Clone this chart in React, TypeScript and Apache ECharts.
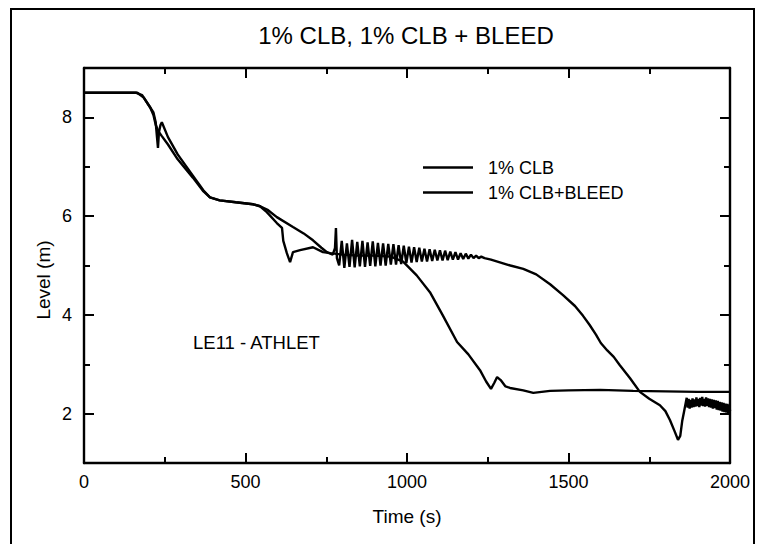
import React, { useEffect, useRef } from "react";
import * as echarts from "echarts";

const titleText = "1% CLB, 1% CLB + BLEED";
const seriesNames = ["1% CLB", "1% CLB+BLEED"];
const xAxisName = "Time (s)";
const yAxisName = "Level (m)";
const annotationText = "LE11 - ATHLET";
const xRange = [0, 2000];
const xTickStep = 500;
const yRange = [1, 9];
const yMajorTicks = [2, 4, 6, 8];
const yMinorTicks = [3, 5, 7];

// 1% CLB (slow drop, oscillations, deep dip near 1840 s)
const clbTime = [
  0, 100, 165, 185, 205, 215, 222, 230, 241, 260, 290, 337, 370, 390, 420, 470, 523, 545, 570, 597, 647, 680, 709,
  735, 752, 770, 777, 780, 783,
  790, 798, 806, 814, 822, 830, 838, 846, 854, 862, 870, 878, 886, 894, 902, 910, 918, 926, 934, 942, 950, 958, 966,
  974, 982, 990, 998, 1006, 1014, 1022, 1030, 1038, 1046, 1054, 1062, 1070, 1078, 1086, 1094, 1102, 1110, 1118,
  1126, 1134, 1142, 1150, 1158, 1166, 1174, 1182, 1190, 1198, 1206, 1214, 1222, 1230, 1240,
  1260, 1290, 1320, 1360, 1400, 1443, 1483, 1520, 1545, 1565, 1585, 1600, 1620, 1640, 1659, 1690, 1721, 1750, 1783,
  1800, 1814, 1828, 1839, 1846, 1852, 1858, 1866,
  1869, 1872, 1875, 1878, 1881, 1884, 1887, 1890, 1893, 1896, 1899, 1902, 1905, 1908, 1911, 1914, 1917, 1920, 1923,
  1926, 1929, 1932, 1935, 1938, 1941, 1944, 1947, 1950, 1953, 1956, 1959, 1962, 1965, 1968, 1971, 1974, 1977, 1980,
  1983, 1986, 1989, 1992, 1995, 1998, 2000,
];
const clbLevel = [
  8.5, 8.5, 8.5, 8.4, 8.2, 8.05, 7.85, 7.72, 7.62, 7.45, 7.15, 6.78, 6.5, 6.38, 6.32, 6.28, 6.24, 6.2, 6.12, 5.98,
  5.78, 5.65, 5.51, 5.36, 5.27, 5.22, 5.35, 5.76, 5.15,
  5.0, 5.5, 4.95, 5.45, 4.97, 5.52, 4.96, 5.48, 4.98, 5.5, 4.97, 5.47, 4.99, 5.49, 4.98, 5.46, 5.0, 5.45, 5.0, 5.44,
  5.02, 5.43, 5.02, 5.41, 5.03, 5.4, 5.05, 5.38, 5.06, 5.37, 5.07, 5.36, 5.08, 5.34, 5.08, 5.33, 5.09, 5.32, 5.1,
  5.31, 5.1, 5.3, 5.11, 5.28, 5.12, 5.27, 5.12, 5.25, 5.13, 5.24, 5.14, 5.22, 5.15, 5.2, 5.15, 5.18, 5.15,
  5.12, 5.06, 5.0, 4.93, 4.82, 4.62, 4.4, 4.18, 3.98, 3.8, 3.6, 3.43, 3.28, 3.15, 2.98, 2.72, 2.44, 2.3, 2.17,
  2.05, 1.87, 1.65, 1.47, 1.55, 1.85, 2.05, 2.32,
  2.12, 2.3, 2.1, 2.28, 2.12, 2.31, 2.13, 2.29, 2.14, 2.33, 2.15, 2.3, 2.13, 2.32, 2.16, 2.34, 2.15, 2.3, 2.14,
  2.33, 2.16, 2.31, 2.13, 2.3, 2.12, 2.29, 2.1, 2.28, 2.11, 2.27, 2.08, 2.26, 2.07, 2.24, 2.06, 2.23, 2.04, 2.22,
  2.03, 2.2, 2.02, 2.2, 2.0, 2.18, 2.05,
];

// 1% CLB + BLEED (earlier drop, settles near 2.45 m)
const bleedTime = [
  0, 100, 160, 180, 200, 215, 222, 226, 229, 232, 237, 241, 260, 290, 337, 370, 390, 420, 470, 523, 545, 566, 597,
  613, 617, 628, 638, 647, 669, 709, 740, 762, 800, 850, 900, 950, 988, 1030, 1071, 1110, 1155, 1190, 1226, 1245,
  1260, 1270, 1279, 1290, 1305, 1319, 1360, 1391, 1443, 1500, 1598, 1700, 1800, 1900, 2000,
];
const bleedLevel = [
  8.5, 8.5, 8.5, 8.45, 8.25, 8.1, 7.9, 7.6, 7.38, 7.7, 7.85, 7.9, 7.6, 7.25, 6.82, 6.52, 6.38, 6.32, 6.28, 6.24, 6.2,
  6.08, 5.86, 5.76, 5.5, 5.25, 5.07, 5.27, 5.31, 5.37, 5.27, 5.25, 5.22, 5.2, 5.2, 5.18, 5.08, 4.8, 4.46, 4.0, 3.45,
  3.2, 2.88, 2.65, 2.5, 2.62, 2.74, 2.68, 2.55, 2.52, 2.47, 2.42, 2.46, 2.47, 2.48, 2.46, 2.45, 2.44, 2.44,
];

const FONT = "'Liberation Sans', Arial, Helvetica, sans-serif";

function zip(t: number[], v: number[]) {
  return t.map((x, i) => [x, v[i]]);
}

export default function App() {
  const ref = useRef<HTMLDivElement>(null);
  useEffect(() => {
    if (!ref.current) return;
    const chart = echarts.init(ref.current, null, { renderer: "svg" });
    const axisLine = { show: true, lineStyle: { color: "#000", width: 2.4 } };
    const xBase = {
      type: "value",
      min: xRange[0],
      max: xRange[1],
      interval: xTickStep,
      axisLine,
      splitLine: { show: false },
      axisTick: { show: true, inside: true, length: 10, lineStyle: { color: "#000", width: 2 } },
      minorTick: { show: true, splitNumber: 2, length: 6, lineStyle: { color: "#000", width: 2 } },
    };
    const yMajor = (position: string, showLabel: boolean) => ({
      type: "value",
      position,
      min: yRange[0],
      max: yRange[1],
      axisLine,
      splitLine: { show: false },
      axisTick: {
        show: true,
        inside: true,
        length: 10,
        customValues: yMajorTicks,
        lineStyle: { color: "#000", width: 2 },
      },
      axisLabel: {
        show: showLabel,
        customValues: yMajorTicks,
        fontSize: 18,
        color: "#000",
        fontFamily: FONT,
        margin: 12,
      },
    });
    const yMinor = (position: string) => ({
      type: "value",
      position,
      min: yRange[0],
      max: yRange[1],
      axisLine: { show: false },
      splitLine: { show: false },
      axisTick: {
        show: true,
        inside: true,
        length: 6,
        customValues: yMinorTicks,
        lineStyle: { color: "#000", width: 2 },
      },
      axisLabel: { show: false },
    });
    chart.setOption({
      animation: false,
      backgroundColor: "#fff",
      textStyle: { fontFamily: FONT, color: "#000" },
      grid: { left: 84, right: 29, top: 68, bottom: 81, containLabel: false },
      legend: {
        orient: "vertical",
        left: 418,
        top: 150,
        icon: "rect",
        itemWidth: 50,
        itemHeight: 2.5,
        itemGap: 0,
        selectedMode: false,
        data: seriesNames,
        itemStyle: { color: "#000" },
        textStyle: {
          fontSize: 18,
          lineHeight: 25,
          color: "#000",
          fontFamily: FONT,
          padding: [0, 0, 0, 10],
        },
      },
      xAxis: [
        {
          ...xBase,
          position: "bottom",
          axisLabel: {
            show: true,
            fontSize: 18,
            color: "#000",
            fontFamily: FONT,
            margin: 10,
            formatter: (v: number) => String(v),
          },
          name: xAxisName,
          nameLocation: "middle",
          nameGap: 44,
          nameTextStyle: { fontSize: 19, color: "#000", fontFamily: FONT },
        },
        { ...xBase, position: "top", axisLabel: { show: false } },
      ],
      yAxis: [yMajor("left", true), yMinor("left"), yMajor("right", false), yMinor("right")],
      graphic: [
        {
          type: "rect",
          shape: { x: 11, y: 9, width: 743, height: 560 },
          style: { fill: "none", stroke: "#000", lineWidth: 2 },
          silent: true,
        },
        {
          type: "text",
          x: 406,
          y: 35,
          style: {
            text: titleText,
            fontSize: 24,
            fontFamily: FONT,
            fill: "#000",
            align: "center",
            verticalAlign: "middle",
          },
        },
        {
          type: "text",
          x: 43,
          y: 280,
          rotation: Math.PI / 2,
          style: {
            text: yAxisName,
            fontSize: 19,
            fontFamily: FONT,
            fill: "#000",
            align: "center",
            verticalAlign: "middle",
          },
        },
        {
          type: "text",
          x: 193,
          y: 342,
          style: {
            text: annotationText,
            fontSize: 18.5,
            fontFamily: FONT,
            fill: "#000",
            align: "left",
            verticalAlign: "middle",
          },
        },
      ],
      series: [
        {
          name: seriesNames[0],
          type: "line",
          data: zip(clbTime, clbLevel),
          symbol: "none",
          xAxisIndex: 0,
          yAxisIndex: 0,
          lineStyle: { color: "#000", width: 2.4 },
          itemStyle: { color: "#000" },
        },
        {
          name: seriesNames[1],
          type: "line",
          data: zip(bleedTime, bleedLevel),
          symbol: "none",
          xAxisIndex: 0,
          yAxisIndex: 0,
          lineStyle: { color: "#000", width: 2.4 },
          itemStyle: { color: "#000" },
        },
      ],
    });
    return () => chart.dispose();
  }, []);
  return (
    <div
      ref={ref}
      style={{ position: "fixed", left: 0, top: 0, width: 759, height: 544, background: "#fff" }}
    />
  );
}
